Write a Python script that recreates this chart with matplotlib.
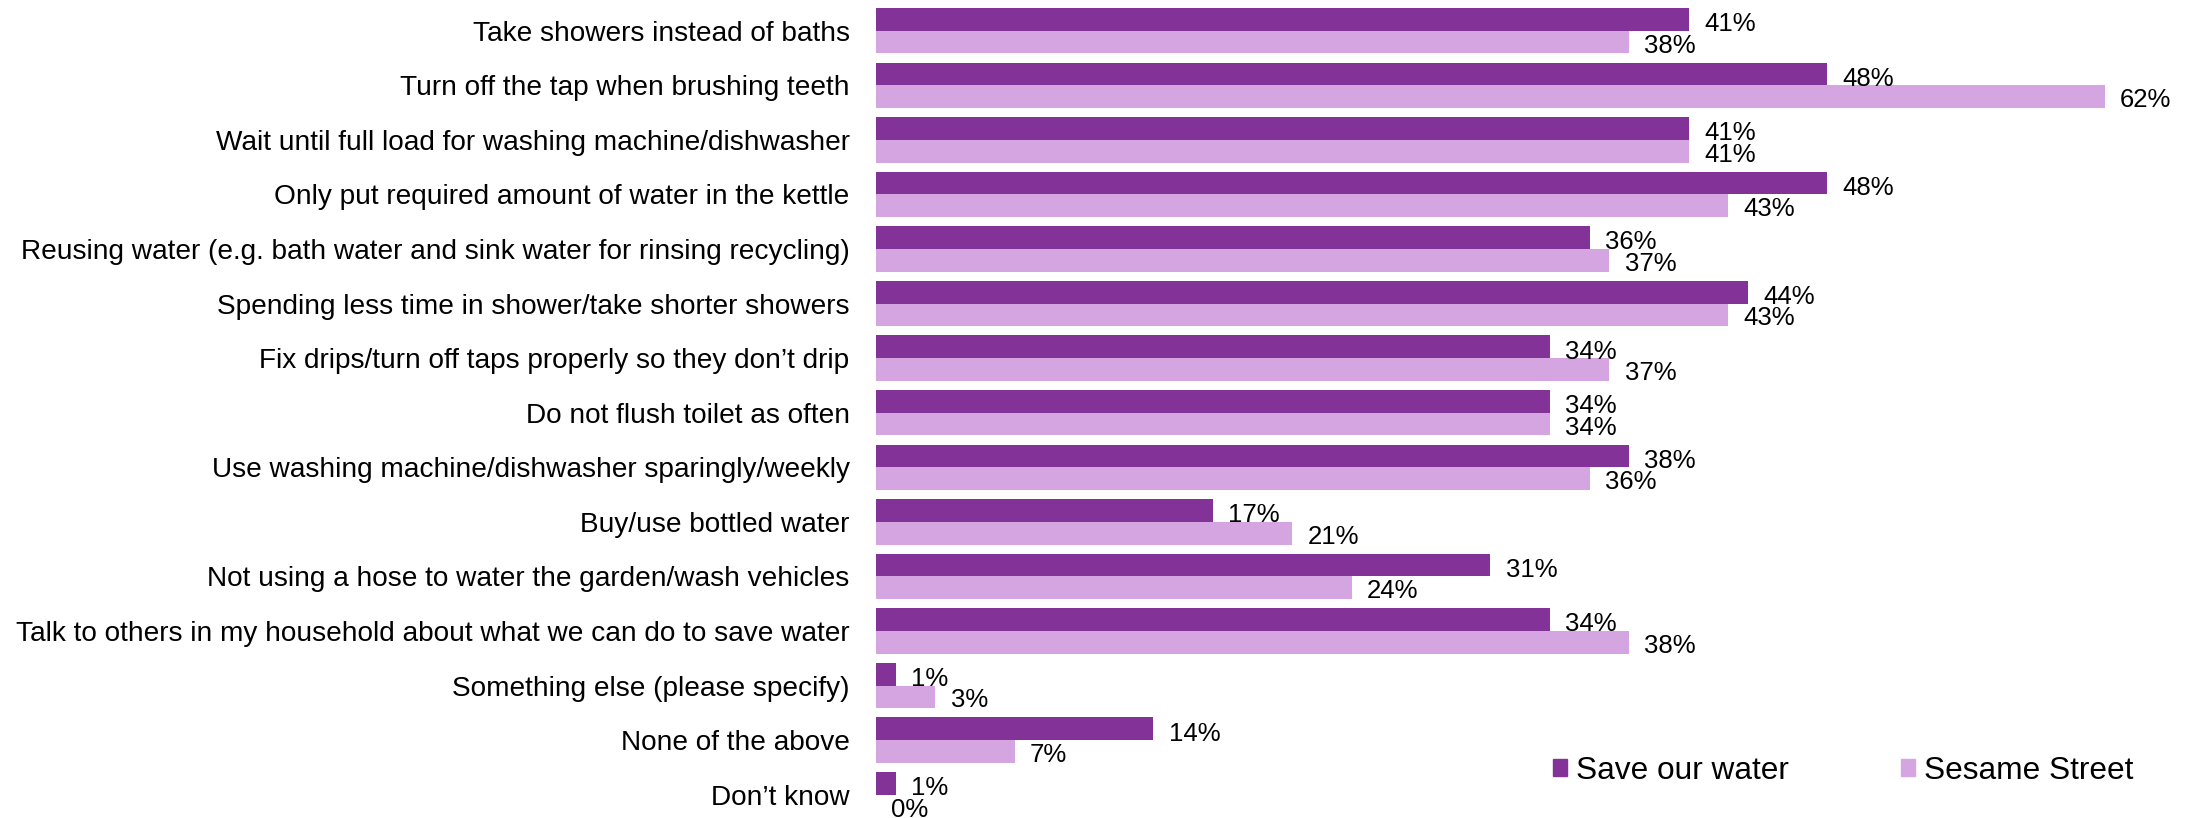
import numpy as np
import matplotlib
matplotlib.use("Agg")
import matplotlib.pyplot as plt
from matplotlib.patches import Patch

plt.rcParams['font.family'] = ['Liberation Sans', 'DejaVu Sans']

categories = [
    "Take showers instead of baths",
    "Turn off the tap when brushing teeth",
    "Wait until full load for washing machine/dishwasher",
    "Only put required amount of water in the kettle",
    "Reusing water (e.g. bath water and sink water for rinsing recycling)",
    "Spending less time in shower/take shorter showers",
    "Fix drips/turn off taps properly so they don\u2019t drip",
    "Do not flush toilet as often",
    "Use washing machine/dishwasher sparingly/weekly",
    "Buy/use bottled water",
    "Not using a hose to water the garden/wash vehicles",
    "Talk to others in my household about what we can do to save water",
    "Something else (please specify)",
    "None of the above",
    "Don\u2019t know",
]
save_our_water = [41, 48, 41, 48, 36, 44, 34, 34, 38, 17, 31, 34, 1, 14, 1]
sesame_street = [38, 62, 41, 43, 37, 43, 37, 34, 36, 21, 24, 38, 3, 7, 0]
series_names = ["Save our water", "Sesame Street"]
colors = ["#833298", "#D4A5E0"]

W, H = 2196, 818
fig = plt.figure(figsize=(W / 100, H / 100), dpi=100)
x0, top = 876, 3.4
ax = fig.add_axes([x0 / W, 0, (W - x0) / W, (H - top) / H])

y = np.arange(len(categories))
h = 0.416
b1 = ax.barh(y - h / 2, save_our_water, height=h, color=colors[0], linewidth=0)
b2 = ax.barh(y + h / 2, sesame_street, height=h, color=colors[1], linewidth=0)

for bars, vals, dy in ((b1, save_our_water, -3.5), (b2, sesame_street, -2.5)):
    for rect, v in zip(bars, vals):
        ax.annotate(f"{v}%", (v, rect.get_y() + rect.get_height() / 2),
                    xytext=(11, dy), textcoords="offset points",
                    ha="left", va="center", fontsize=18.5, color="black")

ax.set_xlim(0, (W - x0) / 19.82)
ax.set_ylim(14.427, -0.5)
ax.set_yticks(y)
ax.set_yticklabels(categories, fontsize=20.2)
ax.tick_params(axis="y", length=0, pad=19)
ax.set_xticks([])
for s in ax.spines.values():
    s.set_visible(False)

handles = [Patch(color=c, label=n) for c, n in zip(colors, series_names)]
fig.legend(handles=handles, loc="center left",
           bbox_to_anchor=(1553 / W, 1 - 771 / H), ncol=2, frameon=False,
           fontsize=22.8, handlelength=0.44, handleheight=0.44,
           handletextpad=0.28, columnspacing=3.55, borderpad=0,
           borderaxespad=0)

fig.savefig("out.png", dpi=100)
